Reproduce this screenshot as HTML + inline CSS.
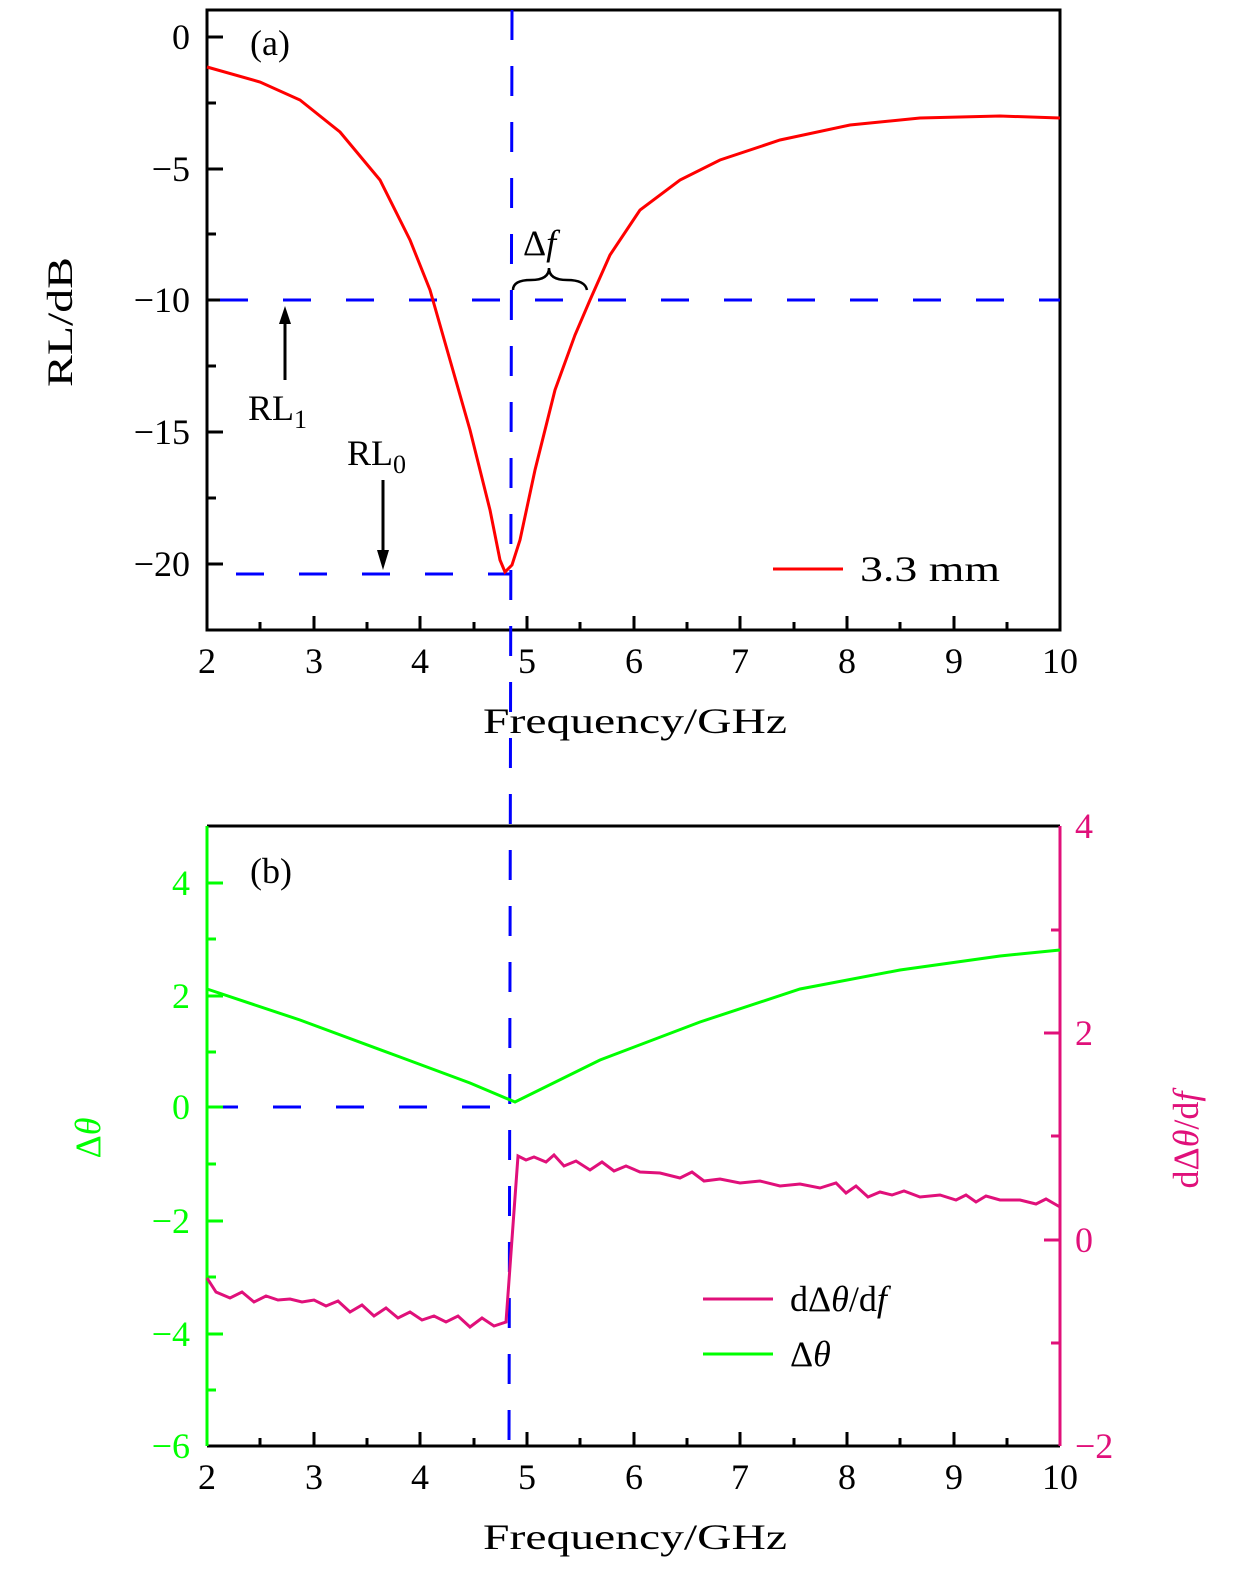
<!DOCTYPE html>
<html><head><meta charset="utf-8"><style>html,body{margin:0;padding:0;background:#fff;overflow:hidden;width:1260px;height:1591px}svg{display:block}text{font-family:"Liberation Serif",serif;font-size:36px}</style></head><body>
<svg width="1260" height="1591" viewBox="0 0 1260 1591" xmlns="http://www.w3.org/2000/svg">
<g stroke="#000" stroke-width="3" fill="none">
<rect x="207" y="10" width="853" height="620"/>
<path d="M207,37h16M207,169h16M207,300h16M207,432h16M207,564h16M207,103h9M207,234h9M207,366h9M207,498h9
M314,630v-14M420,630v-14M527,630v-14M634,630v-14M740,630v-14M847,630v-14M954,630v-14
M260,630v-8M367,630v-8M474,630v-8M580,630v-8M687,630v-8M794,630v-8M900,630v-8M1007,630v-8"/>
</g>
<g text-anchor="end"><text x="190" y="49">0</text><text x="190" y="181">−5</text><text x="190" y="312">−10</text><text x="190" y="444">−15</text><text x="190" y="576">−20</text></g>
<g text-anchor="middle"><text x="207" y="673">2</text><text x="314" y="673">3</text><text x="420" y="673">4</text><text x="527" y="673">5</text><text x="634" y="673">6</text><text x="740" y="673">7</text><text x="847" y="673">8</text><text x="954" y="673">9</text><text x="1060" y="673">10</text></g>
<text x="483" y="733" textLength="304" lengthAdjust="spacingAndGlyphs">Frequency/GHz</text>
<text transform="translate(72,322) rotate(-90)" text-anchor="middle" textLength="130" lengthAdjust="spacingAndGlyphs">RL/dB</text>
<text x="250" y="55">(a)</text>
<g stroke="#00f" stroke-width="3" stroke-dasharray="28,35" fill="none">
<path d="M220,300H1060"/><path d="M236,574H510"/><path d="M490,1107H207" />
</g>
<path d="M512,10L509,1446" stroke="#00f" stroke-width="3" stroke-dasharray="30,26" fill="none"/>
<polyline fill="none" stroke="#f00" stroke-width="3" points="207,67 260,82 300,100 340,132 380,180 410,240 430,290 450,360 470,430 490,510 500,560 505,572 512,565 520,540 535,470 555,390 575,335 590,300 610,255 640,210 680,180 720,160 780,140 850,125 920,118 1000,116 1060,118"/>
<path d="M285,380V318" stroke="#000" stroke-width="3"/><path d="M279,324L285,306L291,324Z"/>
<path d="M383,480V556" stroke="#000" stroke-width="3"/><path d="M377,550L383,570L389,550Z"/>
<text x="248" y="420">RL<tspan font-size="26" dy="8">1</tspan></text>
<text x="347" y="465">RL<tspan font-size="26" dy="8">0</tspan></text>
<text x="523" y="255">Δ<tspan font-style="italic">f</tspan></text>
<path d="M513,290q0,-10 18,-10t18,-12q0,12 18,12t20,10" stroke="#000" stroke-width="2.5" fill="none"/>
<path d="M773,569h70" stroke="#f00" stroke-width="3"/><text x="860" y="581" textLength="140" lengthAdjust="spacingAndGlyphs">3.3 mm</text>
<path d="M207,826H1060M207,1446H1060" stroke="#000" stroke-width="3"/>
<path d="M207,826V1446" stroke="#0f0" stroke-width="3"/>
<path d="M1060,826V1446" stroke="#e0107a" stroke-width="3"/>
<path d="M207,883h16M207,996h16M207,1107h16M207,1221h16M207,1334h16M207,939h9M207,1052h9M207,1164h9M207,1277h9M207,1390h9" stroke="#0f0" stroke-width="3"/>
<path d="M1060,1033h-16M1060,1240h-16M1060,930h-9M1060,1136h-9M1060,1343h-9" stroke="#e0107a" stroke-width="3"/>
<path d="M314,1446v-14M420,1446v-14M527,1446v-14M634,1446v-14M740,1446v-14M847,1446v-14M954,1446v-14M260,1446v-8M367,1446v-8M474,1446v-8M580,1446v-8M687,1446v-8M794,1446v-8M900,1446v-8M1007,1446v-8" stroke="#000" stroke-width="3"/>
<g text-anchor="end" fill="#0f0"><text x="190" y="895">4</text><text x="190" y="1008">2</text><text x="190" y="1119">0</text><text x="190" y="1233">−2</text><text x="190" y="1346">−4</text><text x="190" y="1458">−6</text></g>
<g fill="#e0107a"><text x="1075" y="838">4</text><text x="1075" y="1045">2</text><text x="1075" y="1252">0</text><text x="1075" y="1458">−2</text></g>
<g text-anchor="middle"><text x="207" y="1489">2</text><text x="314" y="1489">3</text><text x="420" y="1489">4</text><text x="527" y="1489">5</text><text x="634" y="1489">6</text><text x="740" y="1489">7</text><text x="847" y="1489">8</text><text x="954" y="1489">9</text><text x="1060" y="1489">10</text></g>
<text x="483" y="1549" textLength="304" lengthAdjust="spacingAndGlyphs">Frequency/GHz</text>
<text transform="translate(100,1138) rotate(-90)" text-anchor="middle" fill="#0f0">Δ<tspan font-style="italic">θ</tspan></text>
<text transform="translate(1198,1140) rotate(-90)" text-anchor="middle" fill="#e0107a">dΔ<tspan font-style="italic">θ</tspan>/d<tspan font-style="italic">f</tspan></text>
<text x="250" y="883">(b)</text>
<polyline fill="none" stroke="#0f0" stroke-width="3" points="207,989 300,1020 400,1057 470,1083 515,1102 600,1060 700,1022 800,989 900,970 1000,956 1060,950"/>
<polyline fill="none" stroke="#e0107a" stroke-width="3" points="207,1278 216,1292 230,1298 242,1292 254,1302 266,1296 278,1300 290,1299 302,1302 314,1300 326,1306 338,1301 350,1312 362,1305 374,1316 386,1308 398,1318 410,1312 422,1320 434,1316 446,1322 458,1316 470,1327 482,1318 494,1326 506,1322 518,1156 526,1160 534,1157 546,1162 554,1155 564,1166 576,1161 590,1170 602,1162 614,1171 626,1166 640,1172 660,1173 680,1178 692,1172 704,1181 720,1179 740,1183 760,1181 780,1186 800,1184 820,1188 836,1183 846,1193 856,1186 868,1197 880,1192 892,1195 904,1191 920,1197 940,1195 956,1200 966,1195 976,1202 986,1196 1000,1200 1020,1200 1036,1204 1046,1199 1060,1207"/>
<path d="M703,1299h70" stroke="#e0107a" stroke-width="3"/><text x="790" y="1311">dΔ<tspan font-style="italic">θ</tspan>/d<tspan font-style="italic">f</tspan></text>
<path d="M703,1354h70" stroke="#0f0" stroke-width="3"/><text x="790" y="1366">Δ<tspan font-style="italic">θ</tspan></text>
</svg>
</body></html>
